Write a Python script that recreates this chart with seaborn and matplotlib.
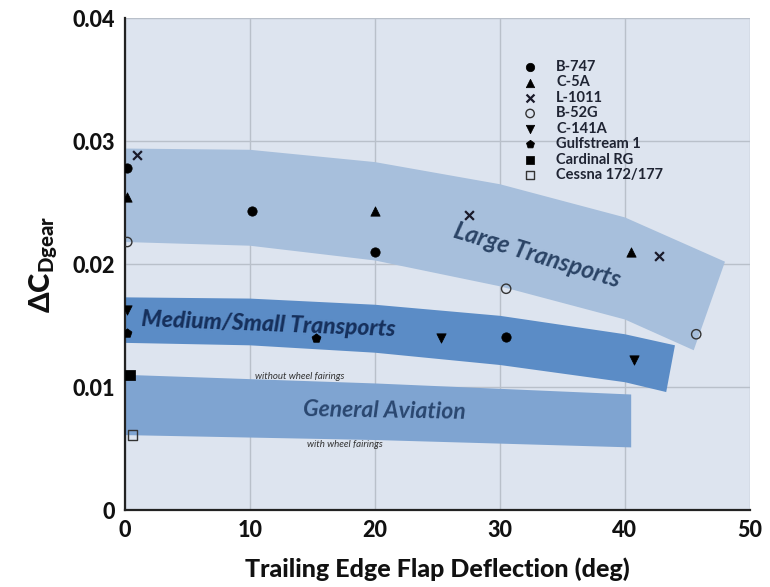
import numpy as np
import pandas as pd
import matplotlib
matplotlib.use('Agg')
import matplotlib.pyplot as plt
import seaborn as sns

sns.set_theme(style='white')
plt.rcParams['font.family'] = ['Lato', 'DejaVu Sans']
plt.rcParams['mathtext.fontset'] = 'custom'
plt.rcParams['mathtext.rm'] = 'Lato'
plt.rcParams['mathtext.bf'] = 'Lato:black'
plt.rcParams['mathtext.it'] = 'Lato:italic'

# aircraft data points (flap deflection deg, delta CD gear)
aircraft = ['B-747', 'C-5A', 'L-1011', 'B-52G', 'C-141A', 'Gulfstream 1', 'Cardinal RG', 'Cessna 172/177']
b747_x = [0.2, 10.2, 20.0, 30.5]
b747_y = [0.0278, 0.0243, 0.0210, 0.0141]
c5a_x = [0.2, 20.0, 40.5]
c5a_y = [0.0255, 0.0243, 0.0210]
l1011_x = [1.0, 27.5, 42.7]
l1011_y = [0.0289, 0.0240, 0.0207]
b52g_x = [0.2, 30.5, 45.7]
b52g_y = [0.0218, 0.0180, 0.0143]
c141a_x = [0.2, 25.3, 40.7]
c141a_y = [0.0163, 0.0140, 0.0122]
gulf_x = [0.2, 15.3]
gulf_y = [0.0144, 0.0140]
cardinal_x = [0.4]
cardinal_y = [0.0110]
cessna_x = [0.6]
cessna_y = [0.0061]

# band outlines
large_up_x = [0, 10, 20, 30, 40, 48]
large_up_y = [0.0294, 0.0293, 0.0283, 0.0265, 0.0238, 0.0202]
large_lo_x = [0, 10, 20, 30, 40, 45.5]
large_lo_y = [0.0218, 0.0215, 0.0203, 0.0182, 0.0155, 0.0130]
med_up_x = [0, 10, 20, 30, 40, 44]
med_up_y = [0.0173, 0.0172, 0.0167, 0.0158, 0.0143, 0.0134]
med_lo_x = [0, 10, 20, 30, 40, 43.3]
med_lo_y = [0.0136, 0.0134, 0.0128, 0.0118, 0.0104, 0.0096]
ga_up_x = [0, 20, 40.5]
ga_up_y = [0.0110, 0.0103, 0.0094]
ga_lo_x = [0, 20, 40.5]
ga_lo_y = [0.0061, 0.0057, 0.0051]

fig = plt.figure(figsize=(7.7, 5.87), dpi=100)
ax = fig.add_axes([0.162, 0.131, 0.812, 0.838])
ax.set_facecolor('#dde4ef')

def band(ux, uy, lx, ly, color):
    px = list(ux) + list(lx)[::-1]
    py = list(uy) + list(ly)[::-1]
    ax.fill(px, py, color=color, lw=0, zorder=1)

band(large_up_x, large_up_y, large_lo_x, large_lo_y, '#a7bfdc')
band(ga_up_x, ga_up_y, ga_lo_x, ga_lo_y, '#7fa4d1')
band(med_up_x, med_up_y, med_lo_x, med_lo_y, '#5b8cc6')

styles = [
    ('B-747', b747_x, b747_y, 'o', True),
    ('C-5A', c5a_x, c5a_y, '^', True),
    ('L-1011', l1011_x, l1011_y, 'x', True),
    ('B-52G', b52g_x, b52g_y, 'o', False),
    ('C-141A', c141a_x, c141a_y, 'v', True),
    ('Gulfstream 1', gulf_x, gulf_y, 'p', True),
    ('Cardinal RG', cardinal_x, cardinal_y, 's', True),
    ('Cessna 172/177', cessna_x, cessna_y, 's', False),
]
for name, xs, ys, m, filled in styles:
    df = pd.DataFrame({'x': xs, 'y': ys})
    if m == 'x':
        sns.scatterplot(data=df, x='x', y='y', marker='x', color='#1a1a2a', s=40,
                        linewidth=1.6, ax=ax, label=name, zorder=5)
    elif filled:
        sns.scatterplot(data=df, x='x', y='y', marker=m, color='black', s=45,
                        edgecolor='black', ax=ax, label=name, zorder=5)
    else:
        sns.scatterplot(data=df, x='x', y='y', marker=m, facecolor='none', s=45,
                        edgecolor='#333333', linewidth=1.0, ax=ax, label=name, zorder=5)

leg = ax.legend(loc='upper left', bbox_to_anchor=(0.625, 0.93), frameon=False,
                prop={'size': 10.5, 'weight': 'bold'}, handletextpad=1.3,
                labelspacing=0.1, borderpad=0, handlelength=1.0, markerscale=0.9)
for t in leg.get_texts():
    t.set_color('#1f2433')

ax.text(33, 0.0207, 'Large Transports', rotation=-17, ha='center', va='center',
        fontsize=17.5, fontweight='bold', style='italic', color='#2b4466', zorder=3)
ax.text(11.5, 0.0151, 'Medium/Small Transports', rotation=-2.3, ha='center', va='center',
        fontsize=16.5, fontweight='black', style='italic', color='#16305c', zorder=3)
ax.text(20.8, 0.0081, 'General Aviation', rotation=-1, ha='center', va='center',
        fontsize=16.5, fontweight='bold', style='italic', color='#2a4770', zorder=3)
ax.text(14.0, 0.0109, 'without wheel fairings', ha='center', va='center',
        fontsize=7, style='italic', color='#333333', zorder=3)
ax.text(17.6, 0.0053, 'with wheel fairings', ha='center', va='center',
        fontsize=7, style='italic', color='#333333', zorder=3)

ax.set_xlim(0, 50)
ax.set_ylim(0, 0.04)
ax.set_xticks([0, 10, 20, 30, 40, 50])
ax.set_yticks([0, 0.01, 0.02, 0.03, 0.04])
ax.set_yticklabels(['0', '0.01', '0.02', '0.03', '0.04'])
ax.grid(True, color='#b9c0ca', lw=1.0, zorder=0)
ax.set_axisbelow(True)
for s in ['top', 'right']:
    ax.spines[s].set_visible(False)
for s in ['left', 'bottom']:
    ax.spines[s].set_color('#222222')
    ax.spines[s].set_linewidth(1.6)
ax.tick_params(axis='both', length=0, labelsize=15.5, pad=7, colors='#111111')
for lbl in ax.get_xticklabels() + ax.get_yticklabels():
    lbl.set_fontweight('black')
ax.set_xlabel('Trailing Edge Flap Deflection (deg)', fontsize=18, fontweight='black',
              labelpad=12, color='#111111')
ax.set_ylabel(r'$\mathbf{\Delta C_{Dgear}}$', fontsize=21, labelpad=10, color='#111111')

fig.savefig('out.png', dpi=100)
